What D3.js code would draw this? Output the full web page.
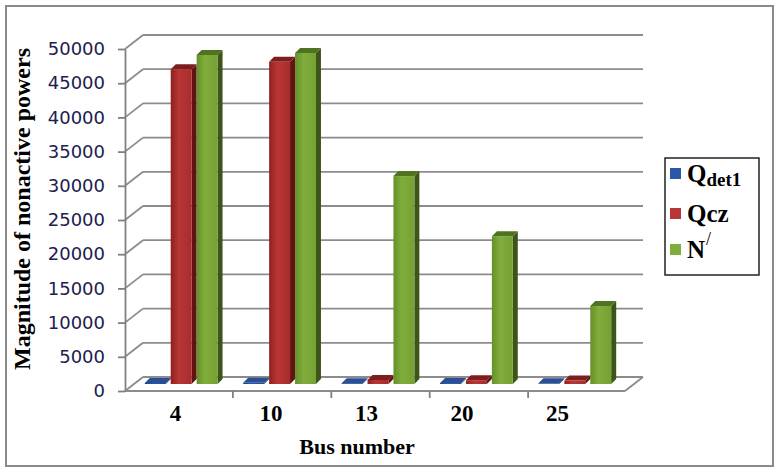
<!DOCTYPE html>
<html>
<head>
<meta charset="utf-8">
<script src="https://cdn.jsdelivr.net/npm/d3@7"></script>
<style>
  body { margin: 0; background: #fff; }
  svg { display: block; }
</style>
</head>
<body>
<div id="chart"></div>
<script>
// Nonactive powers per bus
const buses = ["4", "10", "13", "20", "25"];
const seriesKeys = ["qdet1", "qcz", "nprime"];
const qDet1 = [150, 180, 120, 140, 100];
const qCz = [46000, 47100, 600, 550, 500];
const nPrime = [48100, 48400, 30400, 21600, 11400];
const yTicks = [0, 5000, 10000, 15000, 20000, 25000, 30000, 35000, 40000, 45000, 50000];
const legendLabels = [
    { main: "Q", sub: "det1" },
    { main: "Qcz" },
    { main: "N", sup: "/" }
];

document.addEventListener("DOMContentLoaded", function () {
    const width = 780;
    const height = 473;
    const axisX = 125;
    const depth = { dx: 18, dy: 14 };   // back wall offset
    const barDepth = { dx: 5, dy: 5 };  // bar top/side offset
    const serif = "'Liberation Serif', 'Times New Roman', serif";

    const colors = {
        qdet1: { front: ["#173e86", "#2a58a8", "#1e4a96"], side: "#10295c", top: "#2b4f95" },
        qcz: { front: ["#8f2020", "#b93636", "#a82c2c"], side: "#621414", top: "#7f1c1c" },
        nprime: { front: ["#65902a", "#80ad3c", "#74a132"], side: "#3c561a", top: "#4f7320" }
    };

    const values = { qdet1: qDet1, qcz: qCz, nprime: nPrime };

    const svg = d3.select("#chart")
        .append("svg")
        .attr("width", width)
        .attr("height", height);

    // gradients for bar fronts
    const defs = svg.append("defs");
    seriesKeys.forEach(k => {
        const g = defs.append("linearGradient")
            .attr("id", "grad-" + k)
            .attr("x1", "0%").attr("x2", "100%")
            .attr("y1", "0%").attr("y2", "0%");
        g.append("stop").attr("offset", "0%").attr("stop-color", colors[k].front[0]);
        g.append("stop").attr("offset", "40%").attr("stop-color", colors[k].front[1]);
        g.append("stop").attr("offset", "100%").attr("stop-color", colors[k].front[2]);
    });

    // outer frame
    svg.append("rect")
        .attr("x", 6).attr("y", 6)
        .attr("width", 767).attr("height", 460)
        .attr("fill", "#fff")
        .attr("stroke", "#8a8a8a")
        .attr("stroke-width", 2);

    const y = d3.scaleLinear()
        .domain([0, 50000])
        .range([391, 49]);

    const x0 = d3.scaleBand()
        .domain(buses)
        .range([133, 628])
        .paddingInner(0.21)
        .paddingOuter(0.12);

    const x1 = d3.scaleBand()
        .domain(seriesKeys)
        .range([0, x0.bandwidth()]);

    const wallRight = x0.range()[1] + 15;
    const floorRight = wallRight - depth.dx;

    // back wall gridlines + left wall diagonals
    const grid = svg.append("g")
        .attr("stroke", "#8c8c8c")
        .attr("stroke-width", 1.8)
        .attr("fill", "none");

    grid.selectAll("line.h")
        .data(yTicks)
        .join("line")
        .attr("class", "h")
        .attr("x1", axisX + depth.dx)
        .attr("x2", wallRight)
        .attr("y1", d => y(d) - depth.dy)
        .attr("y2", d => y(d) - depth.dy);

    grid.selectAll("line.d")
        .data(yTicks)
        .join("line")
        .attr("class", "d")
        .attr("x1", axisX)
        .attr("x2", axisX + depth.dx)
        .attr("y1", d => y(d))
        .attr("y2", d => y(d) - depth.dy);

    // floor front edge and right edge
    grid.append("line")
        .attr("x1", axisX).attr("x2", floorRight)
        .attr("y1", y(0)).attr("y2", y(0));
    grid.append("line")
        .attr("x1", floorRight).attr("x2", wallRight)
        .attr("y1", y(0)).attr("y2", y(0) - depth.dy);

    // bars (pseudo 3D)
    const baseY = y(0) - depth.dy / 2;
    const bars = svg.append("g");
    buses.forEach((bus, i) => {
        seriesKeys.forEach(k => {
            const v = values[k][i];
            const xl = x0(bus) + x1(k);
            const w = x1.bandwidth() - barDepth.dx;
            const yt = y(v) - depth.dy / 2;
            const xr = xl + w;
            // side
            bars.append("path")
                .attr("d", `M${xr},${yt}L${xr + barDepth.dx},${yt - barDepth.dy}L${xr + barDepth.dx},${baseY - barDepth.dy}L${xr},${baseY}Z`)
                .attr("fill", colors[k].side);
            // front
            bars.append("rect")
                .attr("x", xl)
                .attr("y", yt)
                .attr("width", w)
                .attr("height", Math.max(0, baseY - yt))
                .attr("fill", `url(#grad-${k})`);
            // top
            bars.append("path")
                .attr("d", `M${xl},${yt}L${xl + barDepth.dx},${yt - barDepth.dy}L${xr + barDepth.dx},${yt - barDepth.dy}L${xr},${yt}Z`)
                .attr("fill", colors[k].top);
        });
    });

    // y axis
    const yAxis = svg.append("g")
        .attr("transform", `translate(${axisX},0)`)
        .call(d3.axisLeft(y).tickValues(yTicks).tickFormat(d3.format("d"))
            .tickSize(7).tickSizeOuter(0).tickPadding(13));
    yAxis.select(".domain").attr("stroke", "#808080").attr("stroke-width", 1.8);
    yAxis.selectAll(".tick line").attr("stroke", "#808080").attr("stroke-width", 1.8);
    yAxis.selectAll(".tick text")
        .attr("font-family", "'DejaVu Sans', Verdana, sans-serif")
        .attr("font-size", 18)
        .attr("fill", "#202050");

    // x tick marks at group boundaries
    const step = x0.step();
    svg.append("g")
        .attr("stroke", "#808080")
        .attr("stroke-width", 1.8)
        .selectAll("line")
        .data(buses.slice(0, -1))
        .join("line")
        .attr("x1", d => x0(d) + x0.bandwidth() + (step - x0.bandwidth()) / 2)
        .attr("x2", d => x0(d) + x0.bandwidth() + (step - x0.bandwidth()) / 2)
        .attr("y1", y(0))
        .attr("y2", y(0) + 7);

    // x labels
    const xLab = d3.scalePoint()
        .domain(buses)
        .range([175, 557]);
    const xAxis = svg.append("g")
        .attr("transform", `translate(0,${y(0)})`)
        .call(d3.axisBottom(xLab).tickSize(0).tickPadding(14));
    xAxis.select(".domain").remove();
    xAxis.selectAll(".tick text")
        .attr("font-family", serif)
        .attr("font-weight", "bold")
        .attr("font-size", 23)
        .attr("fill", "#000");

    // axis titles
    svg.append("text")
        .attr("x", 357)
        .attr("y", 454)
        .attr("text-anchor", "middle")
        .attr("font-family", serif)
        .attr("font-weight", "bold")
        .attr("font-size", 22)
        .text("Bus number");

    svg.append("text")
        .attr("transform", "translate(30,209) rotate(-90)")
        .attr("text-anchor", "middle")
        .attr("font-family", serif)
        .attr("font-weight", "bold")
        .attr("font-size", 24)
        .text("Magnitude of nonactive powers");

    // legend
    const legend = svg.append("g")
        .attr("transform", "translate(665,158)");
    legend.append("rect")
        .attr("width", 94)
        .attr("height", 117)
        .attr("fill", "#fff")
        .attr("stroke", "#222")
        .attr("stroke-width", 1.5);

    const rowY = [24, 64, 100];
    seriesKeys.forEach((k, i) => {
        legend.append("rect")
            .attr("x", 5)
            .attr("y", rowY[i] - 14)
            .attr("width", 11)
            .attr("height", 11)
            .attr("fill", colors[k].front[1]);

        const t = legend.append("text")
            .attr("x", 22)
            .attr("y", rowY[i])
            .attr("font-family", serif)
            .attr("font-weight", "bold")
            .attr("font-size", 25)
            .attr("fill", "#000");
        const lab = legendLabels[i];
        t.append("tspan").text(lab.main);
        if (lab.sub) {
            t.append("tspan").attr("font-size", 19).attr("dy", 4).text(lab.sub);
        }
        if (lab.sup) {
            t.append("tspan").attr("font-size", 18).attr("font-weight", "normal").attr("dy", -13).attr("dx", 1).text(lab.sup);
        }
    });
});
</script>
</body>
</html>
